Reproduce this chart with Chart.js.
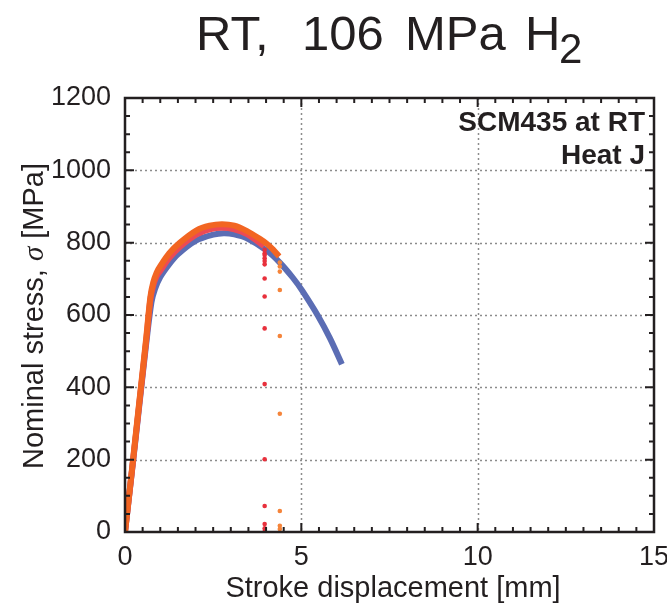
<!DOCTYPE html>
<html>
<head>
<meta charset="utf-8">
<script src="https://cdn.jsdelivr.net/npm/chart.js@4/dist/chart.umd.min.js"></script>
<style>
  html, body { margin: 0; padding: 0; background: #ffffff; }
  #grafico { display: block; }
</style>
</head>
<body>
<canvas id="grafico" width="667" height="604"></canvas>
<script>
// Datos (desplazamiento en mm, tensión en MPa)
const azulX = [0, 0.2, 0.4, 0.6, 0.75, 0.85, 1.0, 1.25, 1.5, 2.0, 2.5, 2.8, 3.1, 3.46, 4.02, 4.39, 4.76, 5.02, 5.47, 5.81, 6.15];
const azulY = [0, 170, 345, 520, 635, 672, 705, 740, 768, 805, 822, 826, 823, 812, 778, 745, 703, 668, 598, 536, 464];

const rojoX = [0, 0.2, 0.4, 0.6, 0.72, 0.8, 0.9, 1.0, 1.25, 1.56, 2.03, 2.4, 2.75, 3.1, 3.46, 3.8, 3.94];
const rojoY = [0, 172, 350, 528, 643, 682, 708, 722, 757, 789, 823, 837, 841, 837, 824, 801, 790];
const rojoRoturaX = 3.96;
const rojoRoturaY = [780, 770, 766, 757, 749, 740, 701, 651, 563, 409, 201, 72, 22, 10, 1];

const naranjaX = [0, 0.2, 0.4, 0.6, 0.72, 0.8, 0.9, 1.0, 1.25, 1.56, 2.03, 2.4, 2.75, 3.1, 3.46, 3.8, 4.02, 4.2, 4.37];
const naranjaY = [0, 175, 355, 535, 650, 690, 718, 735, 770, 800, 834, 847, 851, 847, 832, 812, 797, 781, 762];
const naranjaRoturaX = 4.39;
const naranjaRoturaY = [745, 734, 720, 669, 542, 327, 58, 17, 8];

const ticksX = [0, 5, 10, 15];
const ticksY = [0, 200, 400, 600, 800, 1000, 1200];

const FUENTE = '"Liberation Sans", Arial, Helvetica, sans-serif';
const TINTA = '#231f20';

function puntos(xs, ys) {
    return xs.map((x, i) => ({ x: x, y: ys[i] }));
}
function rotura(x, ys) {
    return ys.map(y => ({ x: x, y: y }));
}

// Títulos, rejilla punteada, marco y marcas interiores
const decoracion = {
    id: 'decoracion',
    beforeDatasetsDraw(chart) {
        const ctx = chart.ctx;
        const a = chart.chartArea;
        const sx = chart.scales.x, sy = chart.scales.y;
        ctx.save();
        ctx.strokeStyle = '#8c8c8c';
        ctx.lineWidth = 1.5;
        ctx.setLineDash([2, 3]);
        [5, 10].forEach(v => {
            const px = Math.round(sx.getPixelForValue(v)) + 0.5;
            ctx.beginPath(); ctx.moveTo(px, a.top); ctx.lineTo(px, a.bottom); ctx.stroke();
        });
        [200, 400, 600, 800, 1000].forEach(v => {
            const py = Math.round(sy.getPixelForValue(v)) + 0.5;
            ctx.beginPath(); ctx.moveTo(a.left, py); ctx.lineTo(a.right, py); ctx.stroke();
        });
        ctx.restore();
    },
    afterDatasetsDraw(chart) {
        const ctx = chart.ctx;
        const a = chart.chartArea;
        const sx = chart.scales.x, sy = chart.scales.y;
        ctx.save();
        ctx.strokeStyle = TINTA;
        ctx.lineWidth = 2;
        // marcas x cada 0.5 mm
        for (let i = 1; i < 30; i++) {
            const v = i * 0.5;
            const px = sx.getPixelForValue(v);
            const largo = (i % 10 === 0) ? 9 : 5;
            ctx.beginPath();
            ctx.moveTo(px, a.bottom); ctx.lineTo(px, a.bottom - largo);
            ctx.moveTo(px, a.top); ctx.lineTo(px, a.top + largo);
            ctx.stroke();
        }
        // marcas y cada 50 MPa
        for (let i = 1; i < 24; i++) {
            const v = i * 50;
            const py = sy.getPixelForValue(v);
            const largo = (i % 4 === 0) ? 9 : 5;
            ctx.beginPath();
            ctx.moveTo(a.left, py); ctx.lineTo(a.left + largo, py);
            ctx.moveTo(a.right, py); ctx.lineTo(a.right - largo, py);
            ctx.stroke();
        }
        ctx.lineWidth = 2.5;
        ctx.strokeRect(a.left, a.top, a.right - a.left, a.bottom - a.top);

        // Título superior
        ctx.fillStyle = TINTA;
        ctx.textBaseline = 'alphabetic';
        ctx.textAlign = 'left';
        ctx.font = '49px ' + FUENTE;
        ctx.fillText('RT,', 196, 50);
        ctx.fillText('106', 302, 50);
        ctx.fillText('MPa', 405, 50);
        ctx.fillText('H', 525, 50);
        ctx.font = '42px ' + FUENTE;
        ctx.fillText('2', 559, 63);

        // Anotación
        ctx.textAlign = 'right';
        ctx.font = 'bold 28px ' + FUENTE;
        ctx.fillText('SCM435 at RT', 645, 131);
        ctx.fillText('Heat J', 645, 164);

        // Título eje x
        ctx.textAlign = 'center';
        ctx.font = '29px ' + FUENTE;
        ctx.fillText('Stroke displacement [mm]', 393, 597);

        // Título eje y (con sigma en cursiva)
        ctx.save();
        ctx.translate(43, 316);
        ctx.rotate(-Math.PI / 2);
        ctx.textAlign = 'left';
        const p1 = 'Nominal stress, ', p2 = '\u03C3', p3 = ' [MPa]';
        const fNormal = '29px ' + FUENTE;
        const fItal = 'italic 29px "Liberation Serif", "DejaVu Serif", serif';
        ctx.font = fNormal; const w1 = ctx.measureText(p1).width; const w3 = ctx.measureText(p3).width;
        ctx.font = fItal; const w2 = ctx.measureText(p2).width;
        let x0 = -(w1 + w2 + w3) / 2;
        ctx.font = fNormal; ctx.fillText(p1, x0, 0);
        ctx.font = fItal; ctx.fillText(p2, x0 + w1, 0);
        ctx.font = fNormal; ctx.fillText(p3, x0 + w1 + w2, 0);
        ctx.restore();

        ctx.restore();
    }
};

const ctx = document.getElementById('grafico').getContext('2d');
new Chart(ctx, {
    type: 'scatter',
    data: {
        datasets: [
            {
                label: 'naranja',
                data: puntos(naranjaX, naranjaY),
                showLine: true,
                borderColor: '#f26522',
                borderWidth: 6,
                pointRadius: 0,
                tension: 0.3
            },
            {
                label: 'naranja rotura',
                data: rotura(naranjaRoturaX, naranjaRoturaY),
                showLine: false,
                pointRadius: 2.3,
                pointBackgroundColor: '#f5843a',
                pointBorderColor: '#f5843a',
                pointBorderWidth: 0
            },
            {
                label: 'rojo',
                data: puntos(rojoX, rojoY),
                showLine: true,
                borderColor: '#ec4a55',
                borderWidth: 6,
                pointRadius: 0,
                tension: 0.3
            },
            {
                label: 'rojo rotura',
                data: rotura(rojoRoturaX, rojoRoturaY),
                showLine: false,
                pointRadius: 2.3,
                pointBackgroundColor: '#e8303c',
                pointBorderColor: '#e8303c',
                pointBorderWidth: 0
            },
            {
                label: 'azul',
                data: puntos(azulX, azulY),
                showLine: true,
                borderColor: '#5b6db4',
                borderWidth: 6,
                pointRadius: 0,
                tension: 0.3
            }
        ]
    },
    options: {
        responsive: false,
        animation: false,
        maintainAspectRatio: false,
        layout: { padding: { top: 98, right: 13, left: 0, bottom: 0 } },
        plugins: {
            legend: { display: false },
            tooltip: { enabled: false },
            title: { display: false }
        },
        scales: {
            x: {
                type: 'linear',
                min: 0, max: 15,
                afterBuildTicks: s => { s.ticks = ticksX.map(v => ({ value: v })); },
                afterFit: s => { s.height = 72; s.paddingLeft = 0; s.paddingRight = 0; },
                grid: { display: false, drawTicks: false },
                border: { display: false },
                ticks: {
                    padding: 9,
                    color: TINTA,
                    font: { family: FUENTE, size: 27 },
                    maxRotation: 0,
                    callback: v => String(v)
                }
            },
            y: {
                type: 'linear',
                min: 0, max: 1200,
                afterBuildTicks: s => { s.ticks = ticksY.map(v => ({ value: v })); },
                afterFit: s => { s.width = 125; s.paddingTop = 0; s.paddingBottom = 0; },
                grid: { display: false, drawTicks: false },
                border: { display: false },
                ticks: {
                    padding: 14,
                    color: TINTA,
                    font: { family: FUENTE, size: 27 },
                    callback: v => String(v)
                }
            }
        }
    },
    plugins: [decoracion]
});
</script>
</body>
</html>
